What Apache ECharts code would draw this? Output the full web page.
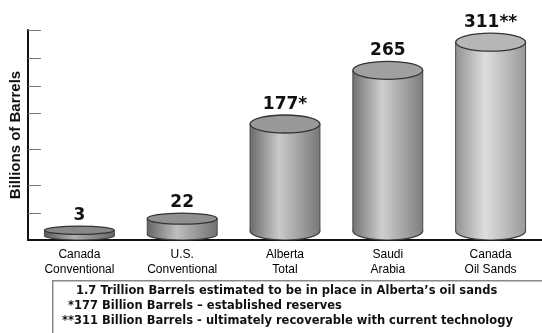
<!DOCTYPE html>
<html>
<head>
<meta charset="utf-8">
<script src="https://cdn.jsdelivr.net/npm/echarts@6/dist/echarts.min.js"></script>
<style>html,body{margin:0;padding:0;background:#fff;}#c{width:542px;height:333px;}</style>
</head>
<body>
<div id="c"></div>
<script>
// ---- data ----
const categories = ['Canada\nConventional', 'U.S.\nConventional', 'Alberta\nTotal', 'Saudi\nArabia', 'Canada\nOil Sands'];
const reserves = [3, 22, 177, 265, 311];
const labelSuffix = ['', '', '*', '', '**'];
const yTickValues = [31, 77, 136, 195, 239, 285, 331];
const yAxisTitle = 'Billions of Barrels';
const footnotes = [
  '1.7 Trillion Barrels estimated to be in place in Alberta\u2019s oil sands',
  '*177 Billion Barrels \u2013 established reserves',
  '**311 Billion Barrels - ultimately recoverable with current technology'
];

// ---- styles ----
const palettes = [
  { l: '#5a5a5a', m: '#b0b0b0', r: '#666666', top: '#888888' },
  { l: '#666666', m: '#bebebe', r: '#727272', top: '#909090' },
  { l: '#6c6c6c', m: '#cacaca', r: '#777777', top: '#999999' },
  { l: '#737373', m: '#cfcfcf', r: '#7e7e7e', top: '#a0a0a0' },
  { l: '#929292', m: '#dedede', r: '#9a9a9a', top: '#b6b6b6' }
];
const footFont = 'bold 11.5px "DejaVu Sans", Verdana, sans-serif';

function renderItem(params, api) {
  const idx = params.dataIndex;
  const v = api.value(1);
  const p = api.coord([api.value(0), v]);
  const cs = params.coordSys;
  const yBot = cs.y + cs.height;
  const w = api.size([1, 0])[0] * 0.68;
  const rx = w / 2;
  const cx = p[0];
  const yTop = p[1];
  const h = yBot - yTop;
  const ry = Math.min(9, 3 + h * 0.12);
  const yB = yBot - ry;
  const pal = palettes[idx];
  const grad = new echarts.graphic.LinearGradient(0, 0, 1, 0, [
    { offset: 0, color: pal.l },
    { offset: 0.42, color: pal.m },
    { offset: 1, color: pal.r }
  ]);
  return {
    type: 'group',
    children: [
      { type: 'ellipse', shape: { cx: cx, cy: yB, rx: rx, ry: ry },
        style: { fill: grad, stroke: '#3a3a3a', lineWidth: 1.2 } },
      { type: 'rect', shape: { x: cx - rx, y: yTop, width: w, height: yB - yTop },
        style: { fill: grad } },
      { type: 'line', shape: { x1: cx - rx, y1: yTop, x2: cx - rx, y2: yB },
        style: { stroke: '#4a4a4a', lineWidth: 1 } },
      { type: 'line', shape: { x1: cx + rx, y1: yTop, x2: cx + rx, y2: yB },
        style: { stroke: '#4a4a4a', lineWidth: 1 } },
      { type: 'ellipse', shape: { cx: cx, cy: yTop, rx: rx, ry: ry },
        style: { fill: pal.top, stroke: '#333', lineWidth: 1.3 } },
      { type: 'text',
        style: { text: String(reserves[idx]) + labelSuffix[idx], x: cx, y: yTop - ry - 2,
          align: 'center', verticalAlign: 'bottom',
          font: 'bold 17px "DejaVu Sans", Verdana, sans-serif', fill: '#111' } }
    ]
  };
}

const chart = echarts.init(document.getElementById('c'), null, { renderer: 'canvas' });
chart.setOption({
  backgroundColor: '#ffffff',
  animation: false,
  grid: { left: 27, right: -13, top: 30, bottom: 93, containLabel: false },
  xAxis: {
    type: 'category',
    data: categories,
    axisLine: { onZero: false, lineStyle: { color: '#111', width: 2 } },
    axisTick: { show: false },
    axisLabel: {
      interval: 0, margin: 7, fontSize: 12, lineHeight: 15, color: '#000',
      fontFamily: '"Liberation Sans Narrow", "Arial Narrow", "Liberation Sans", sans-serif'
    }
  },
  yAxis: {
    type: 'value',
    min: -13, max: 331,
    name: yAxisTitle,
    nameLocation: 'middle',
    nameGap: 5,
    nameTextStyle: { fontSize: 15, fontWeight: 'bold', color: '#111', fontFamily: '"Liberation Sans", Arial, sans-serif' },
    splitLine: { show: false },
    axisLine: { show: true, lineStyle: { color: '#111', width: 2 } },
    axisTick: { show: true, inside: true, length: 13, customValues: yTickValues, lineStyle: { color: '#777', width: 1 } },
    axisLabel: { show: false }
  },
  series: [{
    type: 'custom',
    renderItem: renderItem,
    data: reserves.map((v, i) => [i, v]),
    encode: { x: 0, y: 1 },
    clip: false
  }],
  graphic: [
    { type: 'rect', left: 52, top: 280, shape: { width: 510, height: 70 },
      style: { fill: '#fff', stroke: '#888', lineWidth: 1.5 } },
    { type: 'text', left: 76, top: 285, style: { text: footnotes[0], font: footFont, fill: '#111' } },
    { type: 'text', left: 68, top: 300, style: { text: footnotes[1], font: footFont, fill: '#111' } },
    { type: 'text', left: 62, top: 315, style: { text: footnotes[2], font: footFont, fill: '#111' } }
  ]
});
</script>
</body>
</html>
